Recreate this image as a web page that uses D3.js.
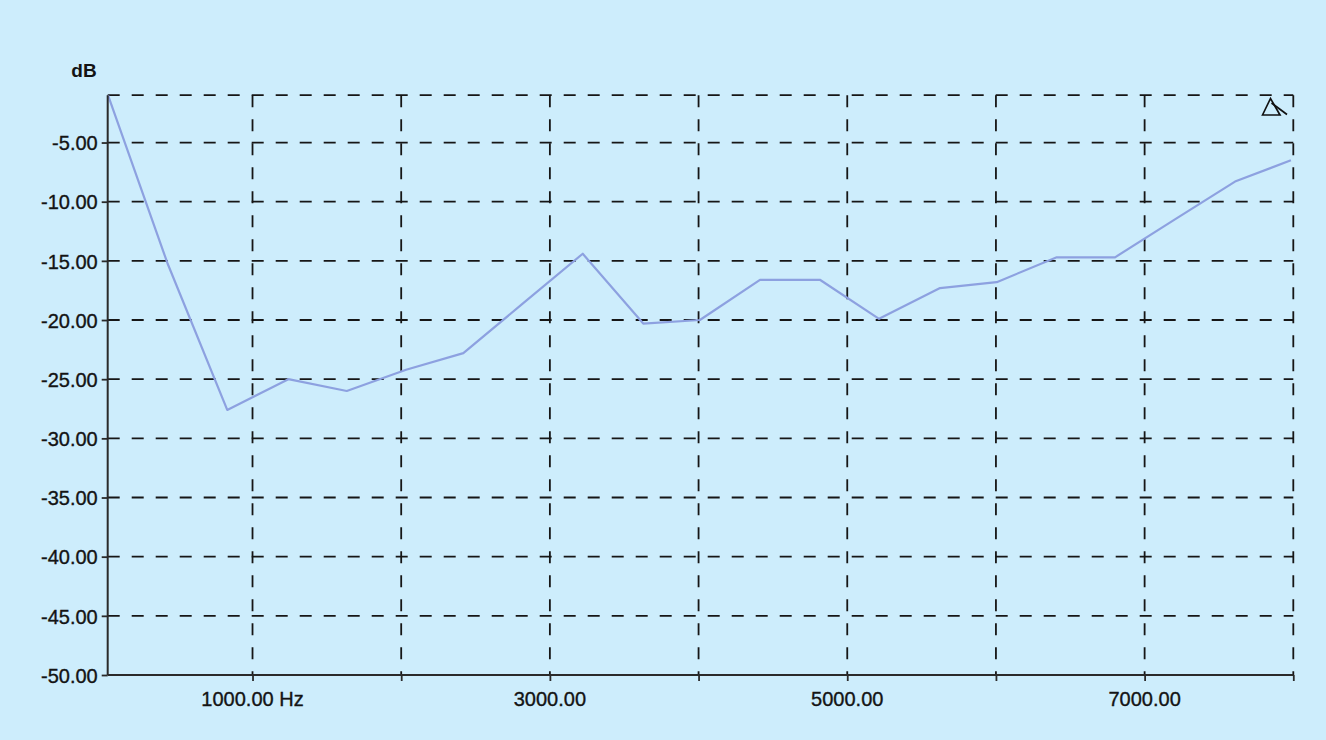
<!DOCTYPE html>
<html>
<head>
<meta charset="utf-8">
<script src="https://cdn.jsdelivr.net/npm/d3@7"></script>
<style>
  html, body { margin: 0; padding: 0; background: #cdedfc; }
  svg { display: block; }
  text { font-family: "Liberation Sans", Arial, sans-serif; fill: #141414; }
</style>
</head>
<body>
<svg id="chart" width="1326" height="740"></svg>
<script>
// ---- data ----
const freqs = [28, 428, 830, 1241, 1634, 2033, 2418, 2819, 3221, 3628, 4009,
               4413, 4816, 5214, 5624, 6005, 6409, 6801, 7204, 7608, 7984];
const dbValues = [-1.0, -15.2, -27.6, -25.0, -26.0, -24.2, -22.8, -18.6, -14.4, -20.3, -20.0,
                  -16.6, -16.6, -19.9, -17.3, -16.8, -14.7, -14.7, -11.5, -8.3, -6.5];
const yTicks = [-5, -10, -15, -20, -25, -30, -35, -40, -45, -50];
const xGridTicks = [1000, 2000, 3000, 4000, 5000, 6000, 7000, 8000];
const xLabelTicks = [1000, 3000, 5000, 7000];
const xLabelText = ["1000.00 Hz", "3000.00", "5000.00", "7000.00"];
const yUnit = "dB";
const xDomain = [26, 8000];
const yDomain = [-50, -1];

(function () {
  const svg = d3.select("#chart");
  const W = 1326, H = 740;
  svg.append("rect").attr("width", W).attr("height", H).attr("fill", "#cdedfc");

  const pLeft = 107.7, pRight = 1293.3, pTop = 95.2, pBottom = 675;
  const x = d3.scaleLinear().domain(xDomain).range([pLeft, pRight]);
  const y = d3.scaleLinear().domain(yDomain).range([pBottom, pTop]);

  const gridColor = "#161616";
  const dash = "12,12";

  // horizontal gridlines (including top edge)
  const hLines = yTicks.filter(d => d !== yDomain[0]).concat([yDomain[1]]);
  svg.append("g").selectAll("line").data(hLines).join("line")
    .attr("x1", x(xDomain[0])).attr("x2", x(xDomain[1]))
    .attr("y1", d => y(d)).attr("y2", d => y(d))
    .attr("stroke", gridColor).attr("stroke-width", 1.8)
    .attr("stroke-dasharray", dash);

  // vertical gridlines
  svg.append("g").selectAll("line").data(xGridTicks).join("line")
    .attr("x1", d => x(d)).attr("x2", d => x(d))
    .attr("y1", y(yDomain[1])).attr("y2", y(yDomain[0]))
    .attr("stroke", gridColor).attr("stroke-width", 1.8)
    .attr("stroke-dasharray", dash);

  // data line
  const line = d3.line().x((d, i) => x(freqs[i])).y(d => y(d));
  svg.append("path").datum(dbValues)
    .attr("d", line)
    .attr("fill", "none")
    .attr("stroke", "#8da1e0")
    .attr("stroke-width", 2.2)
    .attr("stroke-linejoin", "round");

  // y axis
  const yAxis = svg.append("g").attr("transform", `translate(${pLeft},0)`)
    .call(d3.axisLeft(y).tickValues(yTicks).tickSize(6).tickPadding(4)
          .tickFormat(d => d.toFixed(2)));
  yAxis.select(".domain").attr("stroke", "#2a2a2a").attr("stroke-width", 2)
    .attr("d", `M0,${pTop}V${pBottom}`);
  yAxis.selectAll(".tick line").attr("stroke", "#2a2a2a").attr("stroke-width", 1.8);
  yAxis.selectAll(".tick text")
    .attr("font-family", null).attr("font-size", null)
    .style("font-family", "'Liberation Sans', Arial, sans-serif")
    .style("font-size", "20px")
    .attr("fill", "#141414").attr("stroke", "#141414").attr("stroke-width", 0.35)
    .attr("dy", "0.36em");

  // x axis
  const xAxis = svg.append("g").attr("transform", `translate(0,${pBottom})`)
    .call(d3.axisBottom(x).tickValues(xGridTicks).tickSize(6).tickFormat(""));
  xAxis.select(".domain").attr("stroke", "#2a2a2a").attr("stroke-width", 2)
    .attr("d", `M${pLeft},0H${pRight}`);
  xAxis.selectAll(".tick line").attr("stroke", "#2a2a2a").attr("stroke-width", 1.8);

  svg.append("g").selectAll("text").data(xLabelTicks).join("text")
    .attr("x", d => x(d)).attr("y", 706)
    .attr("text-anchor", "middle")
    .style("font-size", "20px")
    .attr("stroke", "#141414").attr("stroke-width", 0.35)
    .text((d, i) => xLabelText[i]);

  // unit label
  svg.append("text").attr("x", 84).attr("y", 76.5).attr("text-anchor", "middle")
    .style("font-size", "19px").style("font-weight", "bold").text(yUnit);

  // cursor marker (triangle) at the top-right
  const mk = svg.append("g").attr("fill", "none").attr("stroke", "#111").attr("stroke-width", 1.7);
  mk.append("path").attr("d", "M1262.5,115 L1270.5,98.5 L1280,115 Z");
  mk.append("path").attr("d", "M1271.5,103 L1287,114.5");
})();
</script>
</body>
</html>
